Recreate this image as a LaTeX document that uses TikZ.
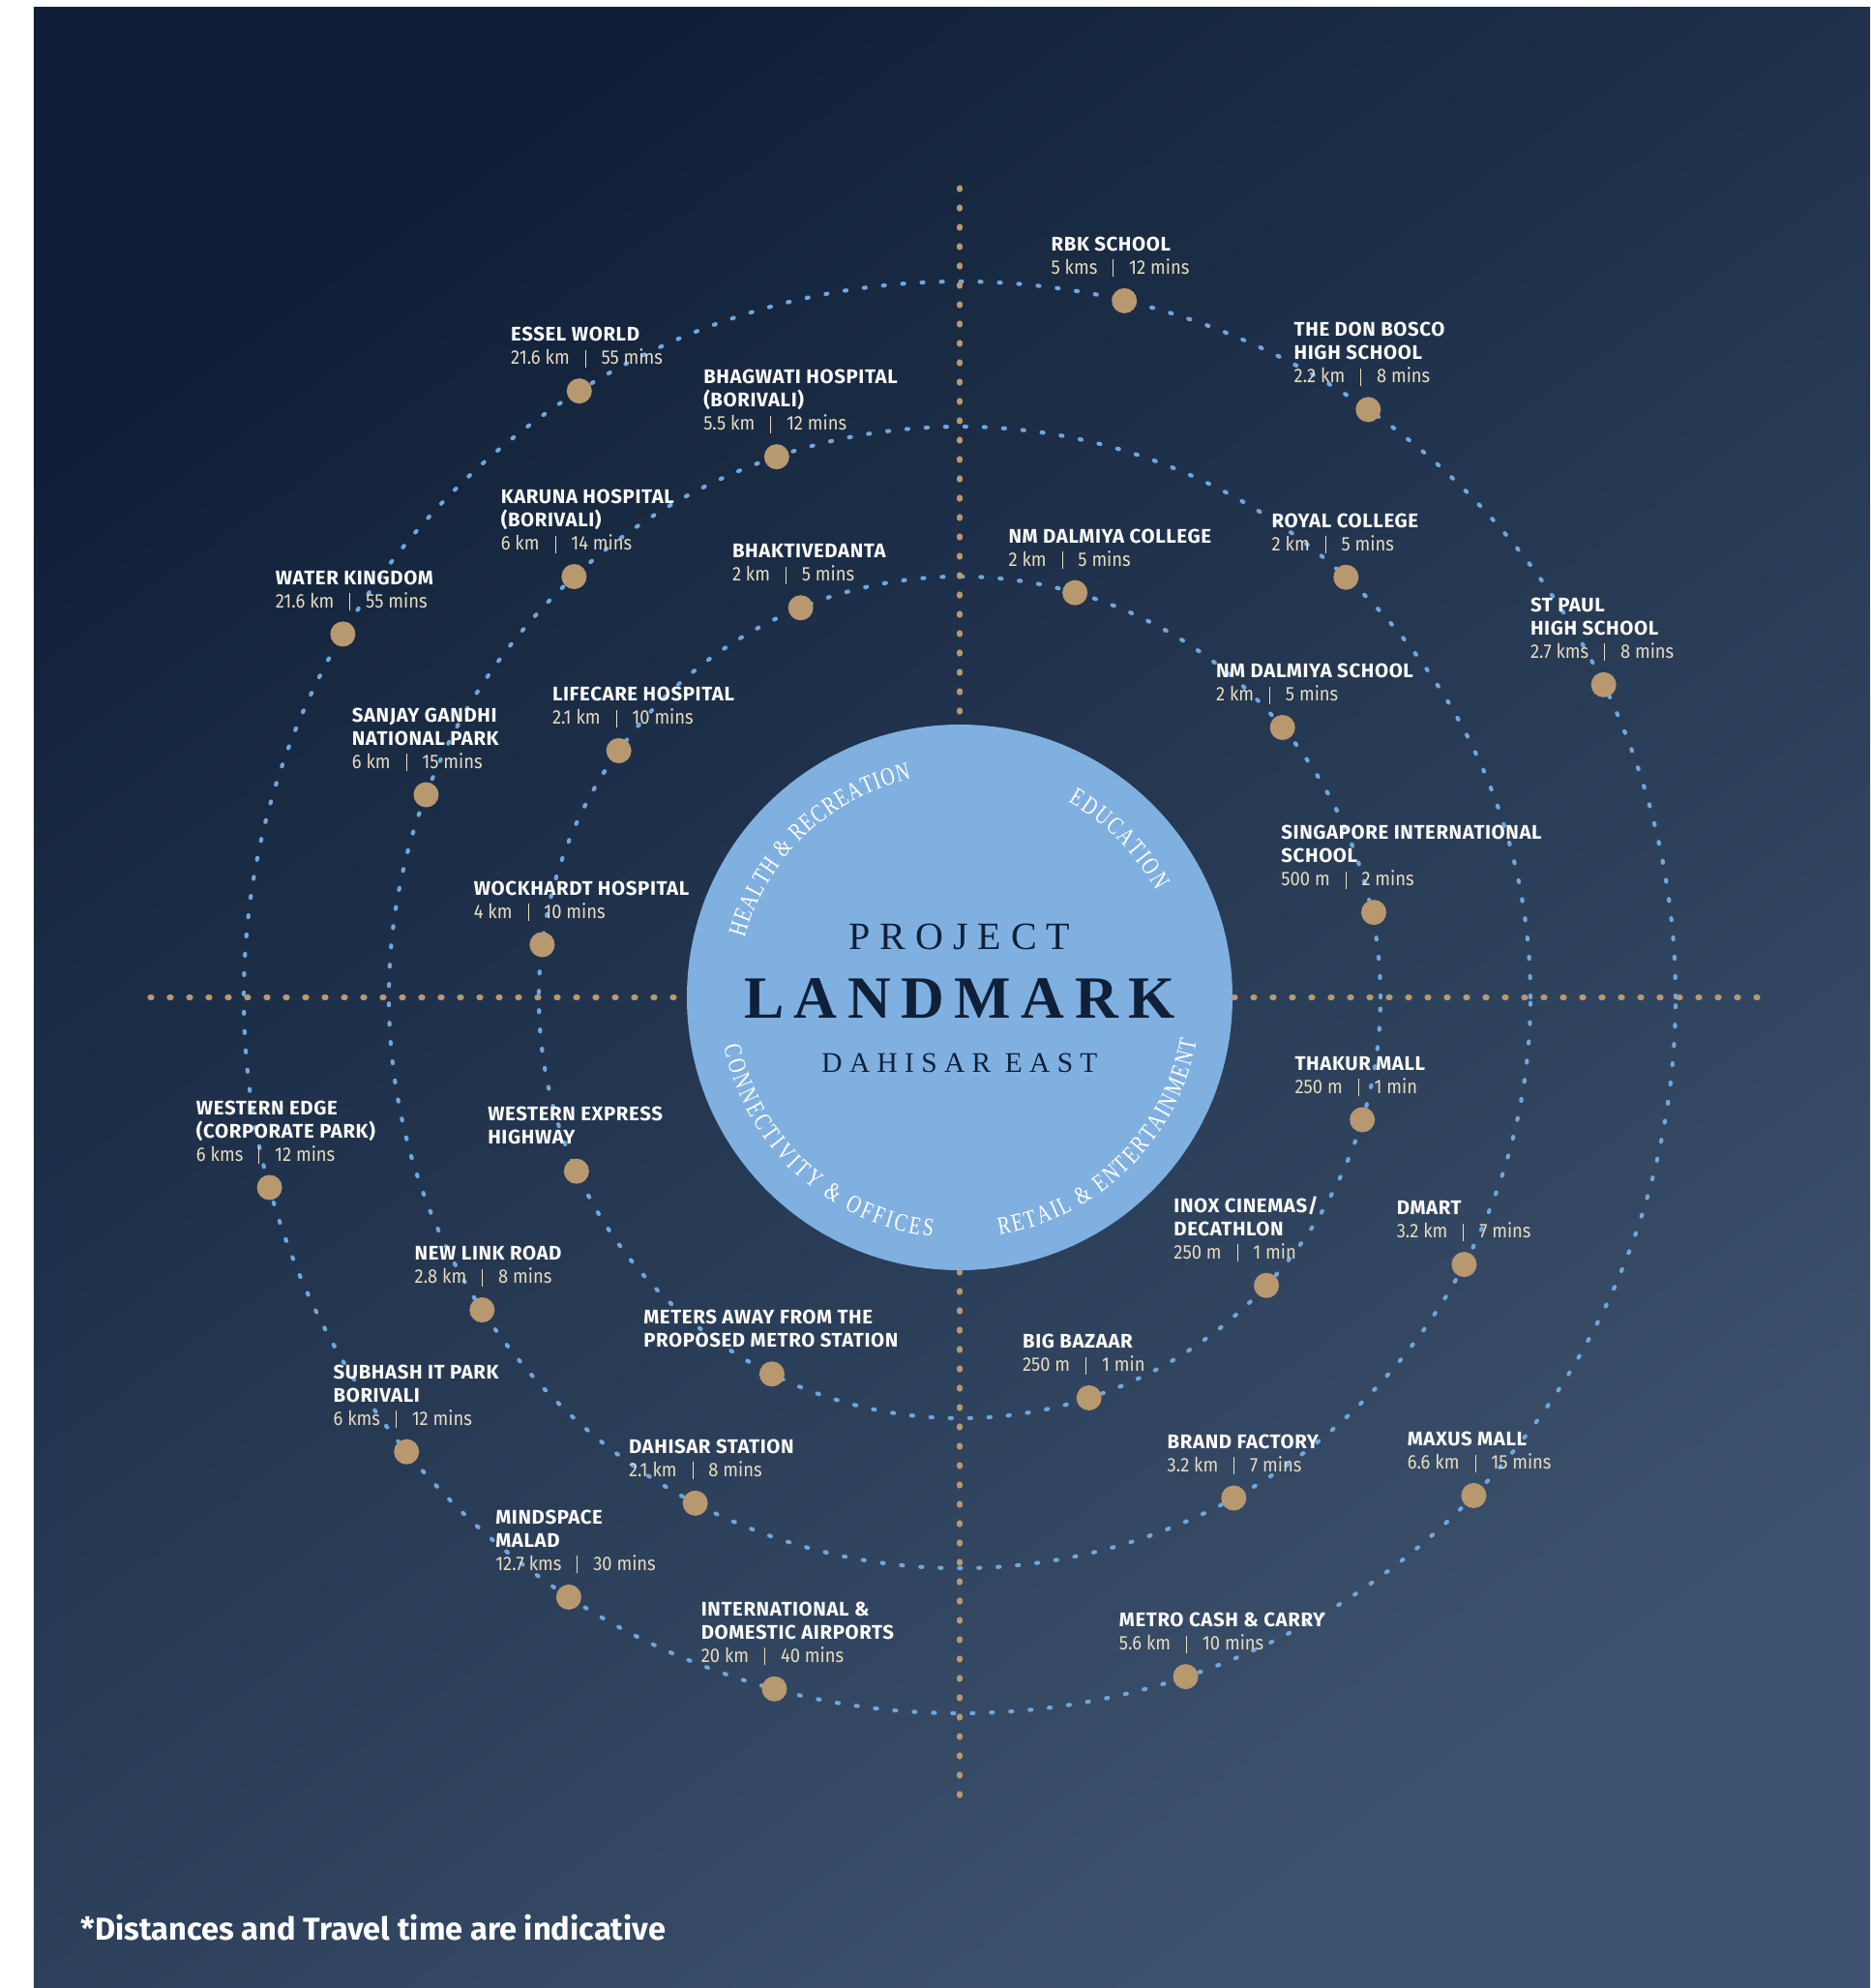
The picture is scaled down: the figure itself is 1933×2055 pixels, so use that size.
\documentclass[tikz,border=0pt]{standalone}
\usepackage{fontspec}
\setmainfont{Liberation Serif}
\setsansfont{Fira Sans}
\newfontfamily\lblfont{Fira Sans}[LetterSpace=3]
\newfontfamily\numfont{Fira Sans}[FakeStretch=0.9]
\newfontfamily\arcfont{Liberation Serif}[FakeStretch=0.76]
\usepackage{xcolor}
\usepackage{tikz}
\usetikzlibrary{calc}
\usetikzlibrary{decorations.text}

\definecolor{bgtop}{HTML}{0F1F37}
\definecolor{bgbot}{HTML}{3E536F}
\definecolor{hub}{HTML}{80B0E0}
\definecolor{ink}{HTML}{0F2039}
\definecolor{ringblue}{HTML}{6FA7DE}
\definecolor{gold}{HTML}{B8986F}
\definecolor{cream}{HTML}{E8DCC0}

\newcommand{\distline}[2]{{\numfont\mdseries\color{cream}#1\hspace{8pt}\rule[-1.5pt]{0.4pt}{9pt}\hspace{8pt}#2}}

\begin{document}
\begin{tikzpicture}[
		%Global config
		x=0.5pt, y=0.5pt,
		%Styles
		ring/.style={
			draw=ringblue,
			line width=2.1pt,
			line cap=round,
			dash pattern=on 1pt off 9pt,
		},
		axisline/.style={
			draw=gold,
			line width=2.6pt,
			line cap=round,
			dash pattern=on 1pt off 9pt,
		},
		spot/.style={
			circle,
			fill=gold,
			inner sep=0pt,
			minimum size=13pt,
		},
		lbl/.style={
			anchor=south west,
			inner sep=0pt,
			align=left,
			text=white!94!cream,
			font=\lblfont\bfseries\fontsize{10.2pt}{12pt}\selectfont,
		},
		arclabel/.style={
			decorate,
			decoration={text along path, text align=fit to path, text color=white, text={#1}},
		},
	]

	% page and background
	\fill[white] (-992,-1024) rectangle (941,1031);
	\useasboundingbox (-992,-1024) rectangle (941,1031);
	\shade[top color=bgtop, bottom color=bgbot, shading angle=35] (-957,-1024) rectangle (941,1023);

	% rings and axes
	\draw[ring] (0,0) circle (435);
	\draw[ring] (0,0) circle (590);
	\draw[ring] (0,0) circle (740);
	\draw[axisline] (0,837) -- (0,-837);
	\draw[axisline] (-837,0) -- (837,0);

	% hub
	\node[circle, fill=hub, inner sep=0pt, minimum size=282pt] (hub) at (0,0) {};
	\node[anchor=base, text=ink, font=\fontsize{20pt}{20pt}\selectfont\addfontfeature{LetterSpace=25}] (project) at (0,49) {PROJECT};
	\node[anchor=base, text=ink, font=\fontsize{31pt}{31pt}\selectfont\bfseries\addfontfeature{LetterSpace=17}] (landmark) at (0,-22) {LANDMARK};
	\node[anchor=base, text=ink, font=\fontsize{14.7pt}{15pt}\selectfont\addfontfeature{LetterSpace=25}] (place) at (0,-77) {DAHISAR EAST};

	\begin{scope}
		\arcfont\fontsize{13pt}{14pt}\selectfont
		\path[arclabel={HEALTH {\&} RECREATION}] (164.5:231) arc[start angle=164.5, end angle=102.5, radius=231];
		\path[arclabel={EDUCATION}] (61:231) arc[start angle=61, end angle=28.5, radius=231];
		\path[arclabel={CONNECTIVITY {\&} OFFICES}] (191.8:249) arc[start angle=191.8, end angle=263.5, radius=249];
		\path[arclabel={RETAIL {\&} ENTERTAINMENT}] (279.5:249) arc[start angle=279.5, end angle=349.7, radius=249];
	\end{scope}

	% outer ring
	\node[spot] (rbk) at (76.7:740) {};
	\node[lbl] (rbk-t) at ($(rbk)+(-76,24)$) {RBK SCHOOL\\\distline{5 kms}{12 mins}};
	\node[spot] (bosco) at (55.2:740) {};
	\node[lbl] (bosco-t) at ($(bosco)+(-77,24)$) {THE DON BOSCO\\HIGH SCHOOL\\\distline{2.2 km}{8 mins}};
	\node[spot] (stpaul) at (25.9:740) {};
	\node[lbl] (stpaul-t) at ($(stpaul)+(-76,24)$) {ST PAUL\\HIGH SCHOOL\\\distline{2.7 kms}{8 mins}};
	\node[spot] (essel) at (122.1:740) {};
	\node[lbl] (essel-t) at ($(essel)+(-71,24)$) {ESSEL WORLD\\\distline{21.6 km}{55 mins}};
	\node[spot] (water) at (149.5:740) {};
	\node[lbl] (water-t) at ($(water)+(-70,24)$) {WATER KINGDOM\\\distline{21.6 km}{55 mins}};
	\node[spot] (wedge) at (195.4:740) {};
	\node[lbl] (wedge-t) at ($(wedge)+(-76,24)$) {WESTERN EDGE\\(CORPORATE PARK)\\\distline{6 kms}{12 mins}};
	\node[spot] (subhash) at (219.4:740) {};
	\node[lbl] (subhash-t) at ($(subhash)+(-76,24)$) {SUBHASH IT PARK\\BORIVALI\\\distline{6 kms}{12 mins}};
	\node[spot] (mindspace) at (236.9:740) {};
	\node[lbl] (mindspace-t) at ($(mindspace)+(-76,24)$) {MINDSPACE\\MALAD\\\distline{12.7 kms}{30 mins}};
	\node[spot] (airport) at (255:740) {};
	\node[lbl] (airport-t) at ($(airport)+(-76,24)$) {INTERNATIONAL \&\\DOMESTIC AIRPORTS\\\distline{20 km}{40 mins}};
	\node[spot] (metro) at (288.4:740) {};
	\node[lbl] (metro-t) at ($(metro)+(-69,24)$) {METRO CASH \& CARRY\\\distline{5.6 km}{10 mins}};
	\node[spot] (maxus) at (315.9:740) {};
	\node[lbl] (maxus-t) at ($(maxus)+(-69,24)$) {MAXUS MALL\\\distline{6.6 km}{15 mins}};

	% middle ring
	\node[spot] (bhagwati) at (108.7:590) {};
	\node[lbl] (bhagwati-t) at ($(bhagwati)+(-76,24)$) {BHAGWATI HOSPITAL\\(BORIVALI)\\\distline{5.5 km}{12 mins}};
	\node[spot] (karuna) at (132.5:590) {};
	\node[lbl] (karuna-t) at ($(karuna)+(-76,24)$) {KARUNA HOSPITAL\\(BORIVALI)\\\distline{6 km}{14 mins}};
	\node[spot] (sanjay) at (159.2:590) {};
	\node[lbl] (sanjay-t) at ($(sanjay)+(-77,24)$) {SANJAY GANDHI\\NATIONAL PARK\\\distline{6 km}{15 mins}};
	\node[spot] (royal) at (47.4:590) {};
	\node[lbl] (royal-t) at ($(royal)+(-77,24)$) {ROYAL COLLEGE\\\distline{2 km}{5 mins}};
	\node[spot] (dmart) at (332.1:590) {};
	\node[lbl] (dmart-t) at ($(dmart)+(-70,24)$) {DMART\\\distline{3.2 km}{7 mins}};
	\node[spot] (brand) at (298.7:590) {};
	\node[lbl] (brand-t) at ($(brand)+(-69,24)$) {BRAND FACTORY\\\distline{3.2 km}{7 mins}};
	\node[spot] (dahisar) at (242.4:590) {};
	\node[lbl] (dahisar-t) at ($(dahisar)+(-69,24)$) {DAHISAR STATION\\\distline{2.1 km}{8 mins}};
	\node[spot] (newlink) at (213.2:590) {};
	\node[lbl] (newlink-t) at ($(newlink)+(-70,24)$) {NEW LINK ROAD\\\distline{2.8 km}{8 mins}};

	% inner ring
	\node[spot] (bhakti) at (112.2:435) {};
	\node[lbl] (bhakti-t) at ($(bhakti)+(-71,24)$) {BHAKTIVEDANTA\\\distline{2 km}{5 mins}};
	\node[spot] (lifecare) at (144.1:435) {};
	\node[lbl] (lifecare-t) at ($(lifecare)+(-69,24)$) {LIFECARE HOSPITAL\\\distline{2.1 km}{10 mins}};
	\node[spot] (wockhardt) at (172.8:435) {};
	\node[lbl] (wockhardt-t) at ($(wockhardt)+(-71,24)$) {WOCKHARDT HOSPITAL\\\distline{4 km}{10 mins}};
	\node[spot] (nmcollege) at (74.1:435) {};
	\node[lbl] (nmcollege-t) at ($(nmcollege)+(-69,24)$) {NM DALMIYA COLLEGE\\\distline{2 km}{5 mins}};
	\node[spot] (nmschool) at (39.9:435) {};
	\node[lbl] (nmschool-t) at ($(nmschool)+(-69,24)$) {NM DALMIYA SCHOOL\\\distline{2 km}{5 mins}};
	\node[spot] (singapore) at (11.6:437) {};
	\node[lbl] (singapore-t) at ($(singapore)+(-96,24)$) {SINGAPORE INTERNATIONAL\\SCHOOL\\\distline{500 m}{2 mins}};
	\node[spot] (thakur) at (343.1:435) {};
	\node[lbl] (thakur-t) at ($(thakur)+(-70,24)$) {THAKUR MALL\\\distline{250 m}{1 min}};
	\node[spot] (inox) at (316.8:435) {};
	\node[lbl] (inox-t) at ($(inox)+(-96,24)$) {INOX CINEMAS/\\DECATHLON\\\distline{250 m}{1 min}};
	\node[spot] (bigbazaar) at (287.9:435) {};
	\node[lbl] (bigbazaar-t) at ($(bigbazaar)+(-69,24)$) {BIG BAZAAR\\\distline{250 m}{1 min}};
	\node[spot] (metrostn) at (243.5:435) {};
	\node[lbl] (metrostn-t) at ($(metrostn)+(-133,27)$) {METERS AWAY FROM THE\\PROPOSED METRO STATION};
	\node[spot] (weh) at (204.4:435) {};
	\node[lbl] (weh-t) at ($(weh)+(-92,27)$) {WESTERN EXPRESS\\HIGHWAY};

	% footnote
	\node[anchor=base west, inner sep=0pt, text=white, font=\sffamily\bfseries\fontsize{16.3pt}{18pt}\selectfont] (note) at (-909,-974) {*Distances and Travel time are indicative};
\end{tikzpicture}
\end{document}
